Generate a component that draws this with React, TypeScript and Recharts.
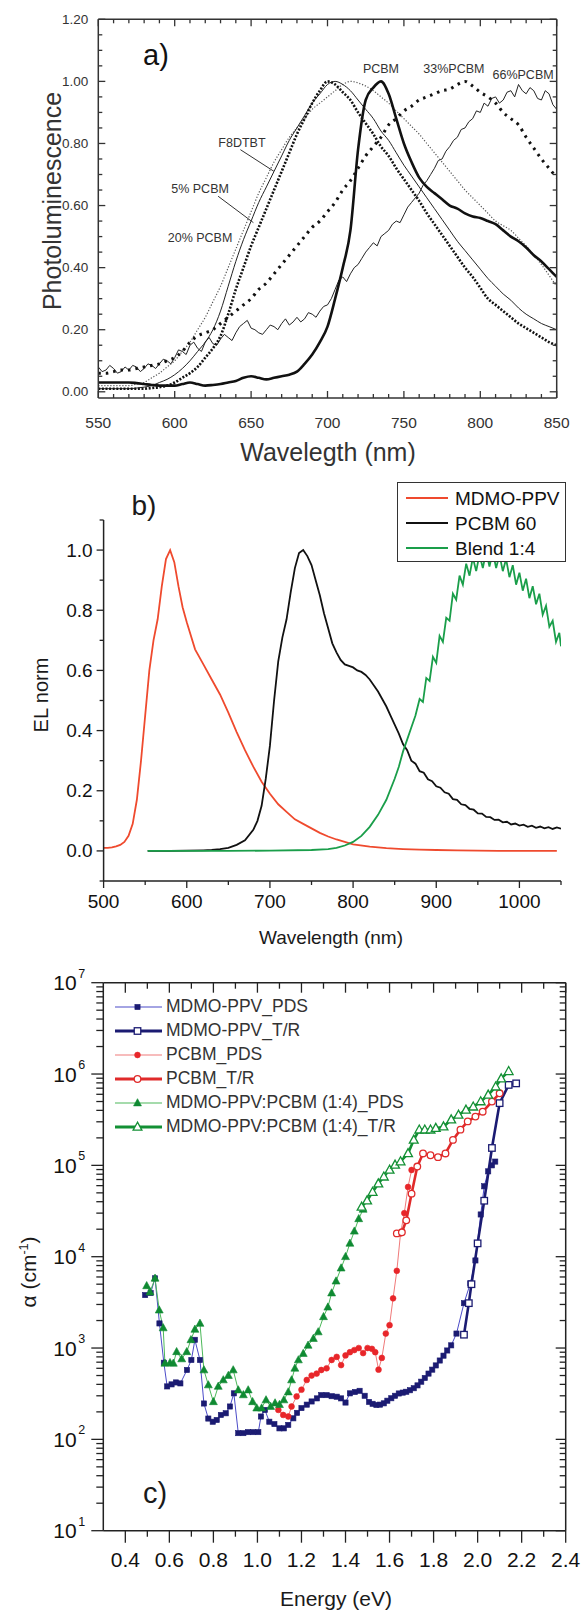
import React from 'react'
import { LineChart, Line, XAxis, YAxis, ReferenceDot, ReferenceLine } from 'recharts'

const FONT = 'Arial, "Liberation Sans", Helvetica, sans-serif'

// ---- a) photoluminescence, sampled every 5 nm ----
const PL_NM = [
  550, 555, 560, 565, 570, 575, 580, 585, 590, 595, 600, 605, 610, 615, 620, 625, 630, 635, 640, 645,
  650, 655, 660, 665, 670, 675, 680, 685, 690, 695, 700, 705, 710, 715, 720, 725, 730, 735, 740, 745,
  750, 755, 760, 765, 770, 775, 780, 785, 790, 795, 800, 805, 810, 815, 820, 825, 830, 835, 840, 845, 850,
]
const PL_F8DTBT = [
  0.02, 0.02, 0.02, 0.02, 0.02, 0.025, 0.03, 0.045, 0.06, 0.08, 0.1, 0.13, 0.16, 0.2, 0.24, 0.29, 0.34, 0.4, 0.46, 0.52,
  0.58, 0.64, 0.69, 0.74, 0.78, 0.82, 0.85, 0.88, 0.91, 0.93, 0.95, 0.97, 0.99, 1.0, 0.995, 0.985, 0.97, 0.95, 0.93, 0.905,
  0.88, 0.855, 0.83, 0.8, 0.77, 0.74, 0.71, 0.68, 0.65, 0.625, 0.6, 0.575, 0.55, 0.535, 0.52, 0.495, 0.47, 0.44, 0.41, 0.375, 0.34,
]
const PL_5PCBM = [
  0.01, 0.01, 0.01, 0.01, 0.01, 0.012, 0.015, 0.02, 0.03, 0.04, 0.055, 0.075, 0.1, 0.13, 0.16, 0.2, 0.26, 0.34, 0.42, 0.49,
  0.55, 0.61, 0.66, 0.71, 0.76, 0.81, 0.85, 0.89, 0.93, 0.96, 0.99, 1.0, 0.99, 0.97, 0.94, 0.91, 0.88, 0.84, 0.81, 0.77,
  0.73, 0.695, 0.66, 0.625, 0.59, 0.555, 0.52, 0.485, 0.455, 0.425, 0.395, 0.365, 0.34, 0.315, 0.295, 0.27, 0.25, 0.235, 0.22, 0.21, 0.2,
]
const PL_20PCBM = [
  0.01, 0.01, 0.01, 0.01, 0.01, 0.01, 0.01, 0.012, 0.015, 0.02, 0.03, 0.045, 0.06, 0.08, 0.11, 0.14, 0.18, 0.25, 0.33, 0.4,
  0.47, 0.53, 0.59, 0.65, 0.71, 0.77, 0.83, 0.88, 0.93, 0.97, 1.0, 0.99, 0.965, 0.94, 0.9, 0.865, 0.83, 0.79, 0.76, 0.72,
  0.685, 0.65, 0.615, 0.575, 0.54, 0.505, 0.47, 0.435, 0.4, 0.37, 0.335, 0.3, 0.28, 0.26, 0.24, 0.22, 0.205, 0.19, 0.175, 0.16, 0.15,
]
const PL_PCBM = [
  0.03, 0.03, 0.03, 0.03, 0.03, 0.028, 0.025, 0.022, 0.02, 0.02, 0.02, 0.025, 0.03, 0.025, 0.02, 0.022, 0.025, 0.03, 0.035, 0.045,
  0.05, 0.045, 0.04, 0.045, 0.05, 0.055, 0.065, 0.09, 0.12, 0.16, 0.21, 0.3, 0.4, 0.52, 0.78, 0.94, 0.98, 1.0, 0.96, 0.88,
  0.8, 0.74, 0.69, 0.66, 0.64, 0.62, 0.6, 0.59, 0.575, 0.565, 0.56, 0.55, 0.54, 0.52, 0.5, 0.485, 0.465, 0.44, 0.42, 0.395, 0.37,
]
const PL_33PCBM = [
  0.06, 0.06, 0.065, 0.07, 0.07, 0.075, 0.08, 0.085, 0.09, 0.1, 0.11, 0.13, 0.16, 0.18, 0.19, 0.2, 0.22, 0.24, 0.26, 0.28,
  0.3, 0.33, 0.35, 0.38, 0.41, 0.44, 0.47, 0.5, 0.53, 0.55, 0.58, 0.61, 0.65, 0.68, 0.72, 0.76, 0.79, 0.82, 0.86, 0.88,
  0.905, 0.92, 0.94, 0.95, 0.96, 0.97, 0.975, 0.99, 1.0, 0.985, 0.965, 0.95, 0.93, 0.9, 0.88, 0.86, 0.82, 0.785, 0.75, 0.72, 0.69,
]
// the 66% blend trace is noisy, so it is read every 2.5 nm
const PL66_NM = [
  550, 552.5, 555, 557.5, 560, 562.5, 565, 567.5, 570, 572.5, 575, 577.5, 580, 582.5, 585, 587.5, 590, 592.5, 595, 597.5,
  600, 602.5, 605, 607.5, 610, 612.5, 615, 617.5, 620, 622.5, 625, 627.5, 630, 632.5, 635, 637.5, 640, 642.5, 645, 647.5,
  650, 652.5, 655, 657.5, 660, 662.5, 665, 667.5, 670, 672.5, 675, 677.5, 680, 682.5, 685, 687.5, 690, 692.5, 695, 697.5,
  700, 702.5, 705, 707.5, 710, 712.5, 715, 717.5, 720, 722.5, 725, 727.5, 730, 732.5, 735, 737.5, 740, 742.5, 745, 747.5,
  750, 752.5, 755, 757.5, 760, 762.5, 765, 767.5, 770, 772.5, 775, 777.5, 780, 782.5, 785, 787.5, 790, 792.5, 795, 797.5,
  800, 802.5, 805, 807.5, 810, 812.5, 815, 817.5, 820, 822.5, 825, 827.5, 830, 832.5, 835, 837.5, 840, 842.5, 845, 847.5, 850,
]
const PL_66PCBM = [
  0.08, 0.065, 0.07, 0.085, 0.075, 0.06, 0.065, 0.08, 0.07, 0.085, 0.08, 0.065, 0.075, 0.09, 0.085, 0.075, 0.09, 0.105, 0.1, 0.09,
  0.11, 0.135, 0.13, 0.12, 0.15, 0.16, 0.14, 0.13, 0.16, 0.175, 0.155, 0.15, 0.17, 0.185, 0.175, 0.165, 0.19, 0.21, 0.22, 0.23,
  0.205, 0.2, 0.19, 0.185, 0.2, 0.215, 0.21, 0.2, 0.22, 0.235, 0.215, 0.225, 0.24, 0.225, 0.235, 0.255, 0.25, 0.24, 0.26, 0.275,
  0.28, 0.3, 0.33, 0.36, 0.37, 0.355, 0.38, 0.4, 0.41, 0.43, 0.45, 0.465, 0.48, 0.47, 0.5, 0.51, 0.52, 0.54, 0.55, 0.545,
  0.57, 0.595, 0.61, 0.625, 0.64, 0.665, 0.68, 0.7, 0.72, 0.745, 0.75, 0.775, 0.79, 0.81, 0.82, 0.845, 0.85, 0.87, 0.88, 0.905,
  0.9, 0.93, 0.92, 0.945, 0.95, 0.93, 0.94, 0.965, 0.97, 0.95, 0.99, 0.97, 0.96, 0.98, 0.97, 0.945, 0.94, 0.97, 0.96, 0.925, 0.91,
]
const A_X_TICKS = [
  550, 560, 570, 580, 590, 600, 610, 620, 630, 640, 650, 660, 670, 680, 690, 700, 710, 720, 730, 740,
  750, 760, 770, 780, 790, 800, 810, 820, 830, 840, 850,
]
const A_Y_TICKS = [
  0, 0.05, 0.1, 0.15, 0.2, 0.25, 0.3, 0.35, 0.4, 0.45, 0.5, 0.55, 0.6, 0.65, 0.7, 0.75, 0.8, 0.85, 0.9, 0.95,
  1.0, 1.05, 1.1, 1.15, 1.2,
]

// ---- b) electroluminescence ----
const MDMO_NM = [
  500, 505, 510, 515, 520, 525, 530, 535, 540, 545, 550, 555, 560, 565, 570, 575, 580, 585, 590, 595, 600,
  610, 620, 630, 640, 650, 660, 670, 680, 690, 700, 710, 720, 730, 740, 750, 760, 770, 780, 790, 800,
  820, 840, 860, 880, 900, 925, 950, 975, 1000, 1025, 1045,
]
const MDMO_EL = [
  0.01, 0.01, 0.012, 0.015, 0.02, 0.03, 0.05, 0.09, 0.17, 0.3, 0.45, 0.6, 0.7, 0.77, 0.88, 0.97, 1.0, 0.96, 0.88, 0.81, 0.76,
  0.67, 0.62, 0.57, 0.52, 0.46, 0.395, 0.335, 0.28, 0.23, 0.19, 0.155, 0.13, 0.105, 0.09, 0.075, 0.06, 0.048, 0.038, 0.03, 0.022,
  0.014, 0.009, 0.006, 0.004, 0.003, 0.002, 0.001, 0, 0, 0, 0,
]
const PCBM60_NM = [
  553, 580, 600, 620, 630, 640, 650, 660, 670, 680,
  685, 690, 695, 700, 705, 710, 715, 720, 725, 730, 735, 740, 745, 750, 755, 760, 765, 770, 775, 780,
  785, 790, 795, 800, 805, 810, 815, 820, 825, 830, 835, 840, 845, 850, 855, 860, 865, 870, 875, 880,
  885, 890, 895, 900, 905, 910, 915, 920, 925, 930, 935, 940, 945, 950, 955, 960, 965, 970, 975, 980,
  985, 990, 995, 1000, 1005, 1010, 1015, 1020, 1025, 1030, 1035, 1040, 1045, 1050,
]
const PCBM60_EL = [
  0, 0, 0.001, 0.002, 0.003, 0.006, 0.01, 0.02, 0.035, 0.07,
  0.1, 0.15, 0.24, 0.35, 0.5, 0.63, 0.71, 0.77, 0.86, 0.94, 0.99, 1.0, 0.98, 0.95, 0.9, 0.85, 0.79, 0.74, 0.69, 0.66,
  0.635, 0.62, 0.615, 0.61, 0.6, 0.595, 0.585, 0.57, 0.55, 0.53, 0.505, 0.48, 0.45, 0.42, 0.39, 0.355, 0.335, 0.3, 0.29, 0.265,
  0.26, 0.238, 0.232, 0.215, 0.21, 0.195, 0.19, 0.172, 0.17, 0.155, 0.152, 0.14, 0.137, 0.125, 0.124, 0.113, 0.112, 0.103, 0.104, 0.095,
  0.097, 0.088, 0.091, 0.084, 0.087, 0.08, 0.084, 0.077, 0.081, 0.075, 0.079, 0.073, 0.078, 0.074,
]
const BLEND_NM = [
  553, 600, 650, 700, 750, 770, 780, 790, 800, 810, 820, 830, 840, 850, 855, 860, 865, 870, 875,
  880, 884, 888, 892, 896, 900, 904, 908, 912, 916, 920, 924, 928, 932, 936, 940, 944, 948, 952, 956,
  960, 964, 968, 972, 976, 980, 984, 988, 992, 996, 1000, 1004, 1008, 1012, 1016, 1020, 1024, 1028, 1032, 1036,
  1040, 1044, 1048, 1050,
]
const BLEND_EL = [
  0, 0, 0, 0.001, 0.003, 0.006, 0.01, 0.018, 0.03, 0.05, 0.08, 0.12, 0.17, 0.24, 0.28, 0.33, 0.37, 0.41, 0.45,
  0.505, 0.495, 0.575, 0.565, 0.645, 0.625, 0.715, 0.695, 0.775, 0.765, 0.855, 0.835, 0.915, 0.885, 0.955, 0.915, 0.975, 0.93, 0.985, 0.94,
  0.995, 0.945, 0.995, 0.94, 0.985, 0.93, 0.97, 0.91, 0.95, 0.885, 0.925, 0.865, 0.905, 0.84, 0.88, 0.82, 0.855, 0.785, 0.815, 0.745,
  0.765, 0.695, 0.725, 0.68,
]
const B_X_TICKS = [500, 550, 600, 650, 700, 750, 800, 850, 900, 950, 1000, 1050]
const B_Y_TICKS = [-0.1, 0, 0.1, 0.2, 0.3, 0.4, 0.5, 0.6, 0.7, 0.8, 0.9, 1.0, 1.1]

// ---- c) absorption coefficient ----
const MDMO_PDS_E = [
  0.49, 0.515, 0.535, 0.555, 0.575, 0.59, 0.61, 0.63, 0.65, 0.68, 0.7, 0.716, 0.739, 0.757, 0.777, 0.797, 0.815, 0.834, 0.856, 0.875,
  0.893, 0.913, 0.936, 0.958, 0.981, 1.004, 1.016, 1.034, 1.054, 1.077, 1.1, 1.12, 1.14, 1.163, 1.18, 1.2, 1.224, 1.246, 1.27, 1.29,
  1.314, 1.337, 1.36, 1.38, 1.4, 1.42, 1.443, 1.464, 1.487, 1.507, 1.523, 1.54, 1.557, 1.574, 1.59, 1.608, 1.625, 1.642, 1.66, 1.676,
  1.693, 1.71, 1.727, 1.744, 1.76, 1.777, 1.794, 1.81, 1.828, 1.845, 1.862, 1.88, 1.904, 1.938, 1.967, 1.99, 2.014, 2.03, 2.048, 2.065, 2.08,
]
const MDMO_PDS_A = [
  3800, 4000, 5800, 1860, 690, 380, 400, 420, 410, 575, 740, 1230, 740, 247, 169, 156, 163, 185, 193, 229,
  319, 117, 117, 120, 120, 120, 178, 210, 156, 147, 132, 132, 144, 170, 195, 220, 240, 260, 281, 305,
  305, 297, 293, 281, 253, 319, 330, 340, 300, 257, 245, 238, 240, 248, 265, 282, 300, 318, 325, 332,
  345, 363, 390, 428, 470, 525, 580, 645, 730, 825, 940, 1070, 1440, 3100, 5100, 9100, 29000, 59000, 86000, 100000, 110000,
]
const MDMO_TR_E = [1.938, 1.96, 1.972, 2.0, 2.03, 2.065, 2.1, 2.141, 2.175]
const MDMO_TR_A = [1400, 3100, 5000, 14000, 41000, 155000, 480000, 760000, 790000]
const PCBM_PDS_E = [
  1.095, 1.117, 1.14, 1.155, 1.178, 1.2, 1.224, 1.246, 1.269, 1.29, 1.314, 1.337, 1.36, 1.38, 1.4, 1.42,
  1.44, 1.46, 1.48, 1.5, 1.52, 1.535, 1.55, 1.565, 1.583, 1.6, 1.616, 1.633, 1.65, 1.667, 1.684, 1.7,
]
const PCBM_PDS_A = [
  210, 185, 178, 229, 295, 350, 447, 500, 525, 575, 600, 740, 800, 650, 830, 900,
  950, 1000, 880, 1000, 980, 900, 580, 780, 1440, 1780, 3500, 7000, 18000, 30000, 58000, 89000,
]
const PCBM_TR_E = [1.633, 1.656, 1.676, 1.7, 1.726, 1.752, 1.786, 1.82, 1.854, 1.888, 1.922, 1.955, 1.99, 2.023, 2.065, 2.1]
const PCBM_TR_A = [18000, 18500, 25000, 49000, 97000, 135000, 129000, 123000, 135000, 190000, 246000, 303000, 342000, 387000, 500000, 615000]
const BLEND_PDS_E = [
  0.497, 0.512, 0.535, 0.554, 0.572, 0.58, 0.603, 0.618, 0.633, 0.656, 0.679, 0.698, 0.716, 0.739, 0.757, 0.777, 0.8, 0.822, 0.845, 0.868,
  0.89, 0.913, 0.936, 0.958, 0.978, 0.997, 1.019, 1.039, 1.06, 1.08, 1.1, 1.12, 1.14, 1.155, 1.17, 1.186, 1.208, 1.23, 1.254, 1.276,
  1.3, 1.32, 1.337, 1.357, 1.38, 1.4, 1.42, 1.44, 1.46, 1.48,
]
const BLEND_PDS_A = [
  4800, 4100, 5800, 2600, 1660, 680, 690, 680, 910, 760, 910, 1230, 1600, 1860, 575, 394, 258, 380, 447, 500,
  575, 347, 307, 347, 258, 220, 220, 270, 229, 250, 240, 270, 330, 447, 600, 740, 870, 1070, 1270, 1500,
  2200, 2800, 4000, 5400, 7500, 10000, 14000, 19000, 26000, 33000,
]
const BLEND_TR_E = [
  1.473, 1.498, 1.523, 1.549, 1.574, 1.6, 1.625, 1.65, 1.684, 1.71, 1.735, 1.76, 1.786, 1.81, 1.845, 1.88,
  1.913, 1.947, 1.98, 2.014, 2.048, 2.082, 2.107, 2.141,
]
const BLEND_TR_A = [
  35000, 41000, 51000, 63000, 75000, 89000, 101000, 110000, 135000, 190000, 245000, 245000, 245000, 255000, 265000, 316000,
  356000, 405000, 438000, 500000, 590000, 725000, 890000, 1070000,
]
const C_X_TICKS = [0.4, 0.5, 0.6, 0.7, 0.8, 0.9, 1.0, 1.1, 1.2, 1.3, 1.4, 1.5, 1.6, 1.7, 1.8, 1.9, 2.0, 2.1, 2.2, 2.3, 2.4]
const C_DECADES = [10, 100, 1000, 10000, 100000, 1000000, 10000000]
const C_Y_TICKS = C_DECADES.flatMap((d, i) =>
  i === C_DECADES.length - 1 ? [d] : [1, 2, 3, 4, 5, 6, 7, 8, 9].map(m => m * d)
)

const pts = (xs: number[], ys: number[]) => xs.map((x, i) => ({ x, y: ys[i] }))

type Side = 'top' | 'bottom' | 'left' | 'right'
interface TickSpec {
  side: Side
  dir: 1 | -1 // 1 = outward, -1 = inward
  isMajor: (v: number) => boolean
  major: number
  minor: number
  stroke: string
  label?: (v: number, x: number, y: number) => React.ReactNode
}

// axes are 1px thick boxes; the tick callback gets the point on the axis line
function tickRenderer(spec: TickSpec) {
  return function TickMark(props: any) {
    const { x, y, payload } = props
    const v: number = payload.value
    const major = spec.isMajor(v)
    const len = (major ? spec.major : spec.minor) * spec.dir
    const horiz = spec.side === 'top' || spec.side === 'bottom'
    const sgn = spec.side === 'bottom' || spec.side === 'right' ? 1 : -1
    return (
      <g>
        <line
          x1={x}
          y1={y}
          x2={horiz ? x : x + sgn * len}
          y2={horiz ? y + sgn * len : y}
          stroke={spec.stroke}
          strokeWidth={1.3}
        />
        {major && spec.label ? spec.label(v, x, y) : null}
      </g>
    )
  }
}

const near = (v: number, step: number) => Math.abs(v / step - Math.round(v / step)) < 1e-6

const axisCommon = {
  type: 'number' as const,
  allowDataOverflow: true,
  interval: 0 as const,
  tickSize: 0,
  tickMargin: 0,
  tickLine: false,
}

function Txt(p: { x: number; y: number; size: number; rotate?: boolean; color?: string; children: React.ReactNode }) {
  return (
    <div
      style={{
        position: 'absolute',
        left: p.x,
        top: p.y,
        transform: `translate(-50%, -50%)${p.rotate ? ' rotate(-90deg)' : ''}`,
        fontSize: p.size,
        fontFamily: FONT,
        color: p.color ?? '#1a1a1a',
        whiteSpace: 'nowrap',
        lineHeight: 1,
      }}
    >
      {p.children}
    </div>
  )
}

function PanelA() {
  const ink = '#333'
  const isMajX = (v: number) => near(v, 50)
  const isMajY = (v: number) => near(v, 0.2)
  const plain = { dot: false, activeDot: false, isAnimationActive: false, dataKey: 'y' } as const
  const annot = (x: number, y: number, value: string) => (
    <ReferenceDot
      x={x}
      y={y}
      r={0}
      stroke="none"
      label={{ value, position: 'center', fontSize: 12.5, fill: '#333', fontFamily: FONT }}
    />
  )
  return (
    <LineChart width={584} height={470} margin={{ top: 18.3, right: 26.3, bottom: 71, left: 97.3 }}>
      <XAxis
        {...axisCommon}
        dataKey="x"
        domain={[550, 850]}
        ticks={A_X_TICKS}
        height={1}
        axisLine={{ stroke: ink, strokeWidth: 1.5 }}
        tick={tickRenderer({
          side: 'bottom', dir: -1, isMajor: isMajX, major: 7, minor: 4, stroke: ink,
          label: (v, x, y) => (
            <text x={x} y={y + 24} textAnchor="middle" dominantBaseline="central" fontSize={15.5} fill="#333" fontFamily={FONT}>
              {v}
            </text>
          ),
        })}
      />
      <XAxis
        {...axisCommon}
        xAxisId="top"
        orientation="top"
        dataKey="x"
        domain={[550, 850]}
        ticks={A_X_TICKS}
        height={1}
        axisLine={{ stroke: ink, strokeWidth: 1.5 }}
        tick={tickRenderer({ side: 'top', dir: -1, isMajor: isMajX, major: 7, minor: 4, stroke: ink })}
      />
      <YAxis
        {...axisCommon}
        domain={[-0.02, 1.2]}
        ticks={A_Y_TICKS}
        width={1}
        axisLine={{ stroke: ink, strokeWidth: 1.5 }}
        tick={tickRenderer({
          side: 'left', dir: -1, isMajor: isMajY, major: 7, minor: 4, stroke: ink,
          label: (v, x, y) => (
            <text x={x - 10} y={y} textAnchor="end" dominantBaseline="central" fontSize={13.5} fill="#333" fontFamily={FONT}>
              {v.toFixed(2)}
            </text>
          ),
        })}
      />
      <YAxis
        {...axisCommon}
        yAxisId="right"
        orientation="right"
        domain={[-0.02, 1.2]}
        ticks={A_Y_TICKS}
        width={1}
        axisLine={{ stroke: ink, strokeWidth: 1.5 }}
        tick={tickRenderer({ side: 'right', dir: -1, isMajor: isMajY, major: 7, minor: 4, stroke: ink })}
      />
      <Line {...plain} data={pts(PL66_NM, PL_66PCBM)} type="linear" stroke="#222" strokeWidth={1} />
      <Line {...plain} data={pts(PL_NM, PL_F8DTBT)} type="monotone" stroke="#555" strokeWidth={1.2} strokeDasharray="1.2 1.8" />
      <Line {...plain} data={pts(PL_NM, PL_5PCBM)} type="monotone" stroke="#222" strokeWidth={1} />
      <Line {...plain} data={pts(PL_NM, PL_20PCBM)} type="monotone" stroke="#111" strokeWidth={2.6} strokeDasharray="2 1.6" />
      <Line {...plain} data={pts(PL_NM, PL_33PCBM)} type="monotone" stroke="#111" strokeWidth={3} strokeDasharray="2.5 5" />
      <Line {...plain} data={pts(PL_NM, PL_PCBM)} type="monotone" stroke="#111" strokeWidth={2.6} />
      <ReferenceLine segment={[{ x: 643, y: 0.78 }, { x: 665, y: 0.71 }]} stroke="#333" strokeWidth={1} />
      <ReferenceLine segment={[{ x: 628.4, y: 0.63 }, { x: 651.5, y: 0.545 }]} stroke="#333" strokeWidth={1} />
      {annot(735, 1.041, 'PCBM')}
      {annot(782.7, 1.041, '33%PCBM')}
      {annot(828, 1.022, '66%PCBM')}
      {annot(644, 0.802, 'F8DTBT')}
      {annot(616.6, 0.654, '5% PCBM')}
      {annot(616.6, 0.496, '20% PCBM')}
    </LineChart>
  )
}

const B_SERIES = [
  { name: 'MDMO-PPV', color: '#ef4a2e', nm: MDMO_NM, el: MDMO_EL },
  { name: 'PCBM 60', color: '#111111', nm: PCBM60_NM, el: PCBM60_EL },
  { name: 'Blend 1:4', color: '#1a9e4a', nm: BLEND_NM, el: BLEND_EL },
]

function PanelB() {
  const ink = '#222'
  return (
    <LineChart width={584} height={490} margin={{ top: 50, right: 23, bottom: 78, left: 102.6 }}>
      <XAxis
        {...axisCommon}
        dataKey="x"
        domain={[500, 1050]}
        ticks={B_X_TICKS}
        height={1}
        axisLine={{ stroke: ink, strokeWidth: 1.5 }}
        tick={tickRenderer({
          side: 'bottom', dir: 1, isMajor: v => near(v, 100), major: 7, minor: 4, stroke: ink,
          label: (v, x, y) => (
            <text x={x} y={y + 20} textAnchor="middle" dominantBaseline="central" fontSize={19} fill="#111" fontFamily={FONT}>
              {v}
            </text>
          ),
        })}
      />
      <YAxis
        {...axisCommon}
        domain={[-0.1, 1.1]}
        ticks={B_Y_TICKS}
        width={1}
        axisLine={{ stroke: ink, strokeWidth: 1.5 }}
        tick={tickRenderer({
          side: 'left', dir: 1, isMajor: v => near(v, 0.2) && v > -0.05 && v < 1.05, major: 7, minor: 4, stroke: ink,
          label: (v, x, y) => (
            <text x={x - 11} y={y} textAnchor="end" dominantBaseline="central" fontSize={19} fill="#111" fontFamily={FONT}>
              {v.toFixed(1)}
            </text>
          ),
        })}
      />
      {B_SERIES.map(s => (
        <Line
          key={s.name}
          data={pts(s.nm, s.el)}
          dataKey="y"
          type="linear"
          stroke={s.color}
          strokeWidth={1.8}
          dot={false}
          activeDot={false}
          isAnimationActive={false}
        />
      ))}
    </LineChart>
  )
}

type Marker = 'square' | 'circle' | 'triangle'

function drawMarker(kind: Marker, cx: number, cy: number, color: string, open: boolean, key?: string | number) {
  const fill = open ? '#fff' : color
  const sw = open ? 1.3 : 0.6
  if (kind === 'square') {
    const s = open ? 6.5 : 5.2
    return <rect key={key} x={cx - s / 2} y={cy - s / 2} width={s} height={s} fill={fill} stroke={color} strokeWidth={sw} />
  }
  if (kind === 'circle') {
    return <circle key={key} cx={cx} cy={cy} r={open ? 3.3 : 2.9} fill={fill} stroke={color} strokeWidth={sw} />
  }
  const h = open ? 8 : 7.2
  const w = h * 1.1
  return (
    <polygon
      key={key}
      points={`${cx},${cy - h * 0.6} ${cx - w / 2},${cy + h * 0.4} ${cx + w / 2},${cy + h * 0.4}`}
      fill={fill}
      stroke={color}
      strokeWidth={sw}
    />
  )
}

const C_SERIES = [
  { name: 'MDMO-PPV_PDS', e: MDMO_PDS_E, a: MDMO_PDS_A, line: '#4b4bc8', mark: '#1b1b72', width: 1, marker: 'square' as Marker, open: false },
  { name: 'MDMO-PPV_T/R', e: MDMO_TR_E, a: MDMO_TR_A, line: '#1b1b72', mark: '#1b1b72', width: 2.6, marker: 'square' as Marker, open: true },
  { name: 'PCBM_PDS', e: PCBM_PDS_E, a: PCBM_PDS_A, line: '#f07a7a', mark: '#e8262a', width: 1, marker: 'circle' as Marker, open: false },
  { name: 'PCBM_T/R', e: PCBM_TR_E, a: PCBM_TR_A, line: '#e02a2a', mark: '#e02a2a', width: 2.6, marker: 'circle' as Marker, open: true },
  { name: 'MDMO-PPV:PCBM (1:4)_PDS', e: BLEND_PDS_E, a: BLEND_PDS_A, line: '#4cb85a', mark: '#0f8a32', width: 1, marker: 'triangle' as Marker, open: false },
  { name: 'MDMO-PPV:PCBM (1:4)_T/R', e: BLEND_TR_E, a: BLEND_TR_A, line: '#139034', mark: '#139034', width: 2.6, marker: 'triangle' as Marker, open: true },
]

function PanelC() {
  const ink = '#222'
  const isDecade = (v: number) => near(Math.log10(v), 1)
  const isMajX = (v: number) => Math.round(v * 10) % 2 === 0
  return (
    <LineChart width={584} height={651} margin={{ top: 21.7, right: 17.3, bottom: 79.3, left: 102.3 }}>
      <XAxis
        {...axisCommon}
        dataKey="x"
        domain={[0.3, 2.4]}
        ticks={C_X_TICKS}
        height={1}
        axisLine={{ stroke: ink, strokeWidth: 1.5 }}
        tick={tickRenderer({
          side: 'bottom', dir: 1, isMajor: isMajX, major: 12, minor: 6, stroke: ink,
          label: (v, x, y) => (
            <text x={x} y={y + 29} textAnchor="middle" dominantBaseline="central" fontSize={21} fill="#111" fontFamily={FONT}>
              {v.toFixed(1)}
            </text>
          ),
        })}
      />
      <XAxis
        {...axisCommon}
        xAxisId="top"
        orientation="top"
        dataKey="x"
        domain={[0.3, 2.4]}
        ticks={C_X_TICKS}
        height={1}
        axisLine={{ stroke: ink, strokeWidth: 1.5 }}
        tick={tickRenderer({ side: 'top', dir: -1, isMajor: isMajX, major: 10, minor: 6, stroke: ink })}
      />
      <YAxis
        {...axisCommon}
        scale="log"
        domain={[10, 10000000]}
        ticks={C_Y_TICKS}
        width={1}
        axisLine={{ stroke: ink, strokeWidth: 1.5 }}
        tick={tickRenderer({
          side: 'left', dir: 1, isMajor: isDecade, major: 12, minor: 7, stroke: ink,
          label: (v, x, y) => (
            <g>
              <text x={x - 26.6} y={y} textAnchor="end" dominantBaseline="central" fontSize={21} fill="#111" fontFamily={FONT}>
                10
              </text>
              <text x={x - 25} y={y - 9} textAnchor="start" dominantBaseline="central" fontSize={12.5} fill="#111" fontFamily={FONT}>
                {Math.round(Math.log10(v))}
              </text>
            </g>
          ),
        })}
      />
      <YAxis
        {...axisCommon}
        yAxisId="right"
        orientation="right"
        scale="log"
        domain={[10, 10000000]}
        ticks={C_Y_TICKS}
        width={1}
        axisLine={{ stroke: ink, strokeWidth: 1.5 }}
        tick={tickRenderer({ side: 'right', dir: -1, isMajor: isDecade, major: 10, minor: 6, stroke: ink })}
      />
      {C_SERIES.map(s => (
        <Line
          key={s.name}
          data={pts(s.e, s.a)}
          dataKey="y"
          type="linear"
          stroke={s.line}
          strokeWidth={s.width}
          isAnimationActive={false}
          activeDot={false}
          dot={(p: any) =>
            p.cx == null || p.cy == null ? (
              <g key={`${s.name}-${p.index}`} />
            ) : (
              drawMarker(s.marker, p.cx, p.cy, s.mark, s.open, `${s.name}-${p.index}`)
            )
          }
        />
      ))}
    </LineChart>
  )
}

function LegendB() {
  return (
    <div
      style={{
        position: 'absolute',
        left: 397,
        top: 481.7,
        width: 169,
        height: 80,
        boxSizing: 'border-box',
        border: '1.5px solid #333',
        background: '#fff',
        fontFamily: FONT,
        fontSize: 19,
        color: '#111',
      }}
    >
      {B_SERIES.map((s, i) => (
        <div key={s.name} style={{ position: 'absolute', left: 7, top: 3 + i * 25, height: 25, display: 'flex', alignItems: 'center' }}>
          <svg width={44} height={10} style={{ display: 'block' }}>
            <line x1={1} y1={5} x2={43} y2={5} stroke={s.color} strokeWidth={2.2} />
          </svg>
          <span style={{ marginLeft: 6, lineHeight: 1 }}>{s.name}</span>
        </div>
      ))}
    </div>
  )
}

function LegendC() {
  return (
    <div style={{ position: 'absolute', left: 112, top: 994.7, fontFamily: FONT, fontSize: 17.5, color: '#333' }}>
      {C_SERIES.map((s, i) => (
        <div key={s.name} style={{ position: 'absolute', left: 0, top: i * 24.1, height: 24, display: 'flex', alignItems: 'center', whiteSpace: 'nowrap' }}>
          <svg width={50} height={14} style={{ display: 'block' }}>
            <line x1={3} y1={7} x2={50} y2={7} stroke={s.line} strokeWidth={s.width === 1 ? 1.2 : 3} />
            {drawMarker(s.marker, 25.5, 7, s.mark, s.open)}
          </svg>
          <span style={{ marginLeft: 4, lineHeight: 1 }}>{s.name}</span>
        </div>
      ))}
    </div>
  )
}

export default function App() {
  return (
    <div style={{ position: 'absolute', left: 0, top: 0, width: 584, height: 1611, background: '#fff', overflow: 'hidden' }}>
      <div style={{ position: 'absolute', left: 0, top: 0 }}>
        <PanelA />
      </div>
      <div style={{ position: 'absolute', left: 0, top: 470 }}>
        <PanelB />
      </div>
      <div style={{ position: 'absolute', left: 0, top: 960 }}>
        <PanelC />
      </div>

      <Txt x={156} y={55} size={29} color="#111">a)</Txt>
      <Txt x={52} y={201} size={25} rotate color="#333">Photoluminescence</Txt>
      <Txt x={328} y={452} size={25} color="#333">Wavelegth (nm)</Txt>

      <Txt x={144} y={506} size={28}>b)</Txt>
      <Txt x={41} y={695} size={20} rotate>EL norm</Txt>
      <Txt x={331} y={937} size={19}>Wavelength (nm)</Txt>
      <LegendB />

      <Txt x={155} y={1493} size={29}>c)</Txt>
      <Txt x={28} y={1272} size={21} rotate>
        α (cm<sup style={{ fontSize: '0.6em' }}>-1</sup>)
      </Txt>
      <Txt x={336} y={1598} size={21}>Energy (eV)</Txt>
      <LegendC />
    </div>
  )
}
